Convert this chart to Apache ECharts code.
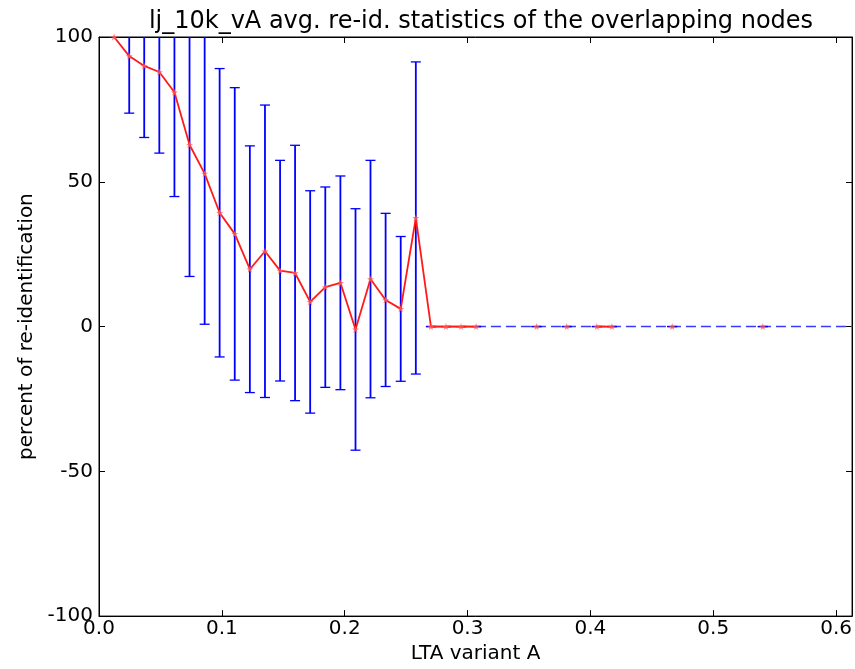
<!DOCTYPE html>
<html>
<head>
<meta charset="utf-8">
<script src="https://cdn.jsdelivr.net/npm/echarts@6/dist/echarts.min.js"></script>
<style>
  html, body { margin: 0; padding: 0; background: #fff; overflow: hidden; }
  #chart { width: 855px; height: 669px; }
</style>
</head>
<body>
<div id="chart"></div>
<script>
// LTA variant A threshold values (one per sample step)
var xValues = [0.0123, 0.0246, 0.0368, 0.0491, 0.0614, 0.0737, 0.0860, 0.0982, 0.1105, 0.1228,
               0.1351, 0.1474, 0.1596, 0.1719, 0.1842, 0.1965, 0.2088, 0.2210, 0.2333, 0.2456,
               0.2579, 0.2702, 0.2824, 0.2947, 0.3070, 0.3193, 0.3316, 0.3438, 0.3561, 0.3684,
               0.3807, 0.3930, 0.4052, 0.4175, 0.4298, 0.4421, 0.4544, 0.4666, 0.4789, 0.4912,
               0.5035, 0.5158, 0.5280, 0.5403];
// average re-identification percentage (null = no measurement)
var meanValues = [100, 93.4, 90.0, 87.9, 80.9, 62.8, 52.8, 39.3, 32.0, 19.8,
                  26.0, 19.3, 18.5, 8.5, 13.6, 15.1, -1.0, 16.4, 9.2, 6.1,
                  37.5, 0, 0, 0, 0, null, null, null, 0, null,
                  0, null, 0, 0, null, null, null, 0, null, null,
                  null, null, null, 0];
// standard deviation around each average
var stdValues = [0, 19.7, 24.7, 28.0, 36.0, 45.5, 52.0, 49.8, 50.5, 42.6,
                 50.5, 38.1, 44.1, 38.4, 34.6, 36.9, 41.7, 41.0, 29.9, 25.0,
                 53.9, 0, 0, 0, 0, null, null, null, 0, null,
                 0, null, 0, 0, null, null, null, 0, null, null,
                 null, null, null, 0];
// dashed zero baseline of the remaining range
var baselineX = [0.2702, 0.613];
var baselineY = [0, 0];

var yTicks = [-100, -50, 0, 50, 100];
var xTicks = [0.0, 0.1, 0.2, 0.3, 0.4, 0.5, 0.6];

var FONT = 'DejaVu Sans';

var lineData = xValues.map(function (x, i) {
  return meanValues[i] === null ? [x, '-'] : [x, meanValues[i]];
});
var errData = [];
xValues.forEach(function (x, i) {
  if (meanValues[i] !== null) {
    errData.push([x, meanValues[i] - stdValues[i], meanValues[i] + stdValues[i]]);
  }
});
var baseData = baselineX.map(function (x, i) { return [x, baselineY[i]]; });

var chart = echarts.init(document.getElementById('chart'), null, { renderer: 'canvas' });

var starPath = 'path://M0,-10 L2.4,-3.3 L9.5,-3.1 L3.9,1.3 L5.9,8.1 L0,4.1 L-5.9,8.1 L-3.9,1.3 L-9.5,-3.1 L-2.4,-3.3 Z';

function axisCommon(extra) {
  var base = {
    axisLine: { show: true, onZero: false, lineStyle: { color: '#000', width: 1 } },
    axisTick: { show: true, inside: true, length: 6, lineStyle: { color: '#000', width: 1 } },
    splitLine: { show: false },
    axisLabel: { show: false }
  };
  for (var k in extra) base[k] = extra[k];
  return base;
}

chart.setOption({
  animation: false,
  backgroundColor: '#fff',
  title: {
    text: 'lj_10k_vA avg. re-id. statistics of the overlapping nodes',
    left: 476,
    textAlign: 'center',
    top: 5,
    textStyle: { fontFamily: FONT, fontSize: 24, fontWeight: 'normal', color: '#000' }
  },
  grid: {
    left: 99, right: 2, top: 37, bottom: 48,
    show: true, borderColor: '#000', borderWidth: 1, backgroundColor: '#fff'
  },
  xAxis: [
    axisCommon({
      type: 'value', min: 0, max: 0.613, interval: 0.1, position: 'bottom',
      name: 'LTA variant A', nameLocation: 'middle', nameGap: 27,
      nameTextStyle: { fontFamily: FONT, fontSize: 20, color: '#000' },
      axisLabel: {
        show: true, margin: 3, color: '#000', fontFamily: FONT, fontSize: 20,
        showMaxLabel: false,
        formatter: function (v) {
          var t = xTicks.find(function (q) { return Math.abs(q - v) < 1e-6; });
          return t === undefined ? '' : t.toFixed(1);
        }
      }
    }),
    axisCommon({ type: 'value', min: 0, max: 0.613, interval: 0.1, position: 'top' })
  ],
  yAxis: [
    axisCommon({
      type: 'value', min: -100, max: 100, interval: 50, position: 'left',
      name: 'percent of re-identification', nameLocation: 'middle', nameGap: 56,
      nameTextStyle: { fontFamily: FONT, fontSize: 20, color: '#000' },
      axisLabel: {
        show: true, margin: 6, color: '#000', fontFamily: FONT, fontSize: 20,
        formatter: function (v) {
          return yTicks.indexOf(v) >= 0 ? String(v) : '';
        }
      }
    }),
    axisCommon({ type: 'value', min: -100, max: 100, interval: 50, position: 'right' })
  ],
  series: [
    {
      type: 'line',
      data: baseData,
      symbol: 'none',
      lineStyle: { color: '#3a3aff', width: 1.6, type: [10, 5] },
      z: 1
    },
    {
      type: 'custom',
      data: errData,
      clip: true,
      z: 2,
      renderItem: function (params, api) {
        var x = api.value(0);
        var lo = api.coord([x, api.value(1)]);
        var hi = api.coord([x, api.value(2)]);
        var cw = 5;
        var style = { stroke: '#0000ff', lineWidth: 1.8 };
        return {
          type: 'group',
          children: [
            { type: 'line', shape: { x1: lo[0], y1: lo[1], x2: hi[0], y2: hi[1] }, style: style },
            { type: 'line', shape: { x1: lo[0] - cw, y1: lo[1], x2: lo[0] + cw, y2: lo[1] }, style: { stroke: '#0000ff', lineWidth: 1.3 } },
            { type: 'line', shape: { x1: hi[0] - cw, y1: hi[1], x2: hi[0] + cw, y2: hi[1] }, style: { stroke: '#0000ff', lineWidth: 1.3 } }
          ]
        };
      }
    },
    {
      type: 'line',
      data: lineData,
      connectNulls: false,
      symbol: starPath,
      symbolSize: 7,
      showSymbol: true,
      itemStyle: { color: 'rgba(255,90,90,0.75)' },
      lineStyle: { color: '#ff1a1a', width: 1.8 },
      z: 3
    }
  ]
});
</script>
</body>
</html>
